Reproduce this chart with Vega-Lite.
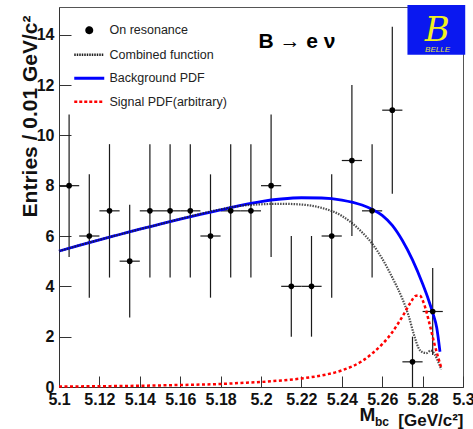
{
  "$schema": "https://vega.github.io/schema/vega-lite/v6.json",
  "width": 404,
  "height": 380,
  "autosize": "none",
  "padding": {"left": 59, "top": 7, "right": 10, "bottom": 42},
  "config": {
    "view": {"stroke": "#555", "strokeWidth": 1},
    "font": "Liberation Sans"
  },
  "datasets": {
    "bins": [
      {"x": 5.105, "n": 8, "lo": 5.17, "hi": 10.83, "xlo": 5.100, "xhi": 5.110},
      {"x": 5.115, "n": 6, "lo": 3.55, "hi": 8.45, "xlo": 5.110, "xhi": 5.120},
      {"x": 5.125, "n": 7, "lo": 4.35, "hi": 9.65, "xlo": 5.120, "xhi": 5.130},
      {"x": 5.135, "n": 5, "lo": 2.76, "hi": 7.24, "xlo": 5.130, "xhi": 5.140},
      {"x": 5.145, "n": 7, "lo": 4.35, "hi": 9.65, "xlo": 5.140, "xhi": 5.150},
      {"x": 5.155, "n": 7, "lo": 4.35, "hi": 9.65, "xlo": 5.150, "xhi": 5.160},
      {"x": 5.165, "n": 7, "lo": 4.35, "hi": 9.65, "xlo": 5.160, "xhi": 5.170},
      {"x": 5.175, "n": 6, "lo": 3.55, "hi": 8.45, "xlo": 5.170, "xhi": 5.180},
      {"x": 5.185, "n": 7, "lo": 4.35, "hi": 9.65, "xlo": 5.180, "xhi": 5.190},
      {"x": 5.195, "n": 7, "lo": 4.35, "hi": 9.65, "xlo": 5.190, "xhi": 5.200},
      {"x": 5.205, "n": 8, "lo": 5.17, "hi": 10.83, "xlo": 5.200, "xhi": 5.210},
      {"x": 5.215, "n": 4, "lo": 2.0, "hi": 6.0, "xlo": 5.210, "xhi": 5.220},
      {"x": 5.225, "n": 4, "lo": 2.0, "hi": 6.0, "xlo": 5.220, "xhi": 5.230},
      {"x": 5.235, "n": 6, "lo": 3.55, "hi": 8.45, "xlo": 5.230, "xhi": 5.240},
      {"x": 5.245, "n": 9, "lo": 6.0, "hi": 12.0, "xlo": 5.240, "xhi": 5.250},
      {"x": 5.255, "n": 7, "lo": 4.35, "hi": 9.65, "xlo": 5.250, "xhi": 5.260},
      {"x": 5.265, "n": 11, "lo": 7.68, "hi": 14.32, "xlo": 5.260, "xhi": 5.270},
      {"x": 5.275, "n": 1, "lo": 0.0, "hi": 2.0, "xlo": 5.270, "xhi": 5.280},
      {"x": 5.285, "n": 3, "lo": 1.27, "hi": 4.73, "xlo": 5.280, "xhi": 5.290}
    ],
    "curves": [
      {"series": "Background PDF", "x": 5.100, "y": 5.40},
      {"series": "Background PDF", "x": 5.110, "y": 5.63},
      {"series": "Background PDF", "x": 5.120, "y": 5.85},
      {"series": "Background PDF", "x": 5.130, "y": 6.06},
      {"series": "Background PDF", "x": 5.140, "y": 6.27},
      {"series": "Background PDF", "x": 5.150, "y": 6.47},
      {"series": "Background PDF", "x": 5.160, "y": 6.67},
      {"series": "Background PDF", "x": 5.170, "y": 6.86},
      {"series": "Background PDF", "x": 5.180, "y": 7.04},
      {"series": "Background PDF", "x": 5.190, "y": 7.22},
      {"series": "Background PDF", "x": 5.200, "y": 7.37},
      {"series": "Background PDF", "x": 5.210, "y": 7.47},
      {"series": "Background PDF", "x": 5.220, "y": 7.52},
      {"series": "Background PDF", "x": 5.230, "y": 7.51},
      {"series": "Background PDF", "x": 5.240, "y": 7.43},
      {"series": "Background PDF", "x": 5.250, "y": 7.23},
      {"series": "Background PDF", "x": 5.255, "y": 7.06},
      {"series": "Background PDF", "x": 5.260, "y": 6.82},
      {"series": "Background PDF", "x": 5.265, "y": 6.42},
      {"series": "Background PDF", "x": 5.270, "y": 5.82},
      {"series": "Background PDF", "x": 5.275, "y": 5.05},
      {"series": "Background PDF", "x": 5.280, "y": 4.10},
      {"series": "Background PDF", "x": 5.283, "y": 3.45},
      {"series": "Background PDF", "x": 5.285, "y": 2.95},
      {"series": "Background PDF", "x": 5.287, "y": 2.35},
      {"series": "Background PDF", "x": 5.2886, "y": 1.40},
      {"series": "Combined function", "x": 5.100, "y": 5.40},
      {"series": "Combined function", "x": 5.110, "y": 5.63},
      {"series": "Combined function", "x": 5.120, "y": 5.85},
      {"series": "Combined function", "x": 5.130, "y": 6.06},
      {"series": "Combined function", "x": 5.140, "y": 6.27},
      {"series": "Combined function", "x": 5.150, "y": 6.47},
      {"series": "Combined function", "x": 5.160, "y": 6.68},
      {"series": "Combined function", "x": 5.170, "y": 6.88},
      {"series": "Combined function", "x": 5.180, "y": 7.06},
      {"series": "Combined function", "x": 5.190, "y": 7.20},
      {"series": "Combined function", "x": 5.200, "y": 7.26},
      {"series": "Combined function", "x": 5.210, "y": 7.28},
      {"series": "Combined function", "x": 5.220, "y": 7.25},
      {"series": "Combined function", "x": 5.230, "y": 7.12},
      {"series": "Combined function", "x": 5.240, "y": 6.80},
      {"series": "Combined function", "x": 5.250, "y": 6.15},
      {"series": "Combined function", "x": 5.255, "y": 5.70},
      {"series": "Combined function", "x": 5.260, "y": 5.10},
      {"series": "Combined function", "x": 5.265, "y": 4.35},
      {"series": "Combined function", "x": 5.270, "y": 3.50},
      {"series": "Combined function", "x": 5.273, "y": 2.85},
      {"series": "Combined function", "x": 5.276, "y": 2.00},
      {"series": "Combined function", "x": 5.278, "y": 1.55},
      {"series": "Combined function", "x": 5.280, "y": 1.38},
      {"series": "Combined function", "x": 5.282, "y": 1.35},
      {"series": "Combined function", "x": 5.284, "y": 1.45},
      {"series": "Combined function", "x": 5.286, "y": 1.30},
      {"series": "Combined function", "x": 5.288, "y": 0.95},
      {"series": "Combined function", "x": 5.2893, "y": 0.70},
      {"series": "Signal PDF(arbitrary)", "x": 5.100, "y": 0.02},
      {"series": "Signal PDF(arbitrary)", "x": 5.120, "y": 0.03},
      {"series": "Signal PDF(arbitrary)", "x": 5.140, "y": 0.05},
      {"series": "Signal PDF(arbitrary)", "x": 5.160, "y": 0.08},
      {"series": "Signal PDF(arbitrary)", "x": 5.180, "y": 0.12},
      {"series": "Signal PDF(arbitrary)", "x": 5.190, "y": 0.16},
      {"series": "Signal PDF(arbitrary)", "x": 5.200, "y": 0.20},
      {"series": "Signal PDF(arbitrary)", "x": 5.210, "y": 0.26},
      {"series": "Signal PDF(arbitrary)", "x": 5.220, "y": 0.34},
      {"series": "Signal PDF(arbitrary)", "x": 5.230, "y": 0.46},
      {"series": "Signal PDF(arbitrary)", "x": 5.240, "y": 0.66},
      {"series": "Signal PDF(arbitrary)", "x": 5.250, "y": 1.03},
      {"series": "Signal PDF(arbitrary)", "x": 5.255, "y": 1.33},
      {"series": "Signal PDF(arbitrary)", "x": 5.260, "y": 1.70},
      {"series": "Signal PDF(arbitrary)", "x": 5.265, "y": 2.18},
      {"series": "Signal PDF(arbitrary)", "x": 5.270, "y": 2.80},
      {"series": "Signal PDF(arbitrary)", "x": 5.274, "y": 3.35},
      {"series": "Signal PDF(arbitrary)", "x": 5.2765, "y": 3.62},
      {"series": "Signal PDF(arbitrary)", "x": 5.2785, "y": 3.64},
      {"series": "Signal PDF(arbitrary)", "x": 5.2805, "y": 3.35},
      {"series": "Signal PDF(arbitrary)", "x": 5.2834, "y": 2.52},
      {"series": "Signal PDF(arbitrary)", "x": 5.2858, "y": 1.73},
      {"series": "Signal PDF(arbitrary)", "x": 5.2891, "y": 0.80}
    ],
    "logo": [
      {"x1": 5.2725, "x2": 5.3011, "y1": 13.2, "y2": 15.18, "bx": 5.2872, "by": 13.75, "big": "B", "tx": 5.2874, "ty": 13.33, "small": "BELLE"}
    ],
    "notes": [
      {"x": 5.2178, "y": 13.47, "label": "B → e ν"}
    ],
    "xtitle": [
      {"x": 5.2488, "y": -1.36, "label": "M"},
      {"x": 5.2564, "y": -1.54, "label": "bc"}
    ]
  },
  "layer": [
    {
      "data": {"name": "bins"},
      "mark": {"type": "rule", "color": "#1a1a1a", "strokeWidth": 1.2},
      "encoding": {
        "x": {"field": "x", "type": "quantitative", "scale": {"domain": [5.1, 5.3], "nice": false, "zero": false},
          "axis": {
            "title": "[GeV/c²]",
            "titleAnchor": "end",
            "titleFontSize": 17,
            "titleFontWeight": "bold",
            "titleColor": "#111",
            "titlePadding": 5,
            "values": [5.1,5.105,5.11,5.115,5.12,5.125,5.13,5.135,5.14,5.145,5.15,5.155,5.16,5.165,5.17,5.175,5.18,5.185,5.19,5.195,5.2,5.205,5.21,5.215,5.22,5.225,5.23,5.235,5.24,5.245,5.25,5.255,5.26,5.265,5.27,5.275,5.28,5.285,5.29,5.295,5.3],
            "format": "~g",
            "labelExpr": "round(datum.value*200) % 4 === 0 ? datum.label : ''",
            "labelOverlap": false,
            "labelFlush": false,
            "labelFontSize": 16,
            "labelFontWeight": "bold",
            "labelColor": "#111",
            "labelPadding": 15,
            "ticks": true,
            "tickSize": {"condition": {"test": "round(datum.value*200) % 4 === 0", "value": -11}, "value": -6},
            "tickWidth": 1,
            "tickColor": "#333",
            "domainColor": "#333",
            "grid": false
          }
        },
        "y": {"field": "lo", "type": "quantitative", "scale": {"domain": [0, 15.1], "nice": false},
          "axis": {
            "title": "Entries / 0.01 GeV/c²",
            "titleFontSize": 21,
            "titleFontWeight": "bold",
            "titleColor": "#111",
            "titleAngle": -90,
            "titleAlign": "right",
            "titleBaseline": "middle",
            "titleX": -29,
            "titleY": 8,
            "values": [0,0.5,1,1.5,2,2.5,3,3.5,4,4.5,5,5.5,6,6.5,7,7.5,8,8.5,9,9.5,10,10.5,11,11.5,12,12.5,13,13.5,14,14.5,15],
            "labelExpr": "datum.value % 2 === 0 ? datum.label : ''",
            "labelOverlap": false,
            "labelFontSize": 16,
            "labelFontWeight": "bold",
            "labelColor": "#111",
            "labelPadding": 17,
            "ticks": true,
            "tickSize": {"condition": {"test": "datum.value % 2 === 0", "value": -12}, "value": -6},
            "tickWidth": 1,
            "tickColor": "#333",
            "domainColor": "#333",
            "grid": false
          }
        },
        "y2": {"field": "hi"}
      }
    },
    {
      "data": {"name": "bins"},
      "mark": {"type": "rule", "color": "#1a1a1a", "strokeWidth": 1.2},
      "encoding": {
        "x": {"field": "xlo", "type": "quantitative"},
        "x2": {"field": "xhi"},
        "y": {"field": "n", "type": "quantitative"}
      }
    },
    {
      "data": {"name": "curves"},
      "transform": [{"filter": "datum.series === 'Background PDF'"}],
      "mark": {"type": "line", "strokeWidth": 2.8, "interpolate": "monotone"},
      "encoding": {
        "x": {"field": "x", "type": "quantitative"},
        "y": {"field": "y", "type": "quantitative"},
        "color": {
          "field": "series", "type": "nominal",
          "scale": {"domain": ["On resonance", "Combined function", "Background PDF", "Signal PDF(arbitrary)"], "range": ["#000000", "#222222", "#0000ff", "#ff0000"]},
          "legend": {
            "title": null,
            "orient": "none",
            "legendX": 24,
            "legendY": 17,
            "padding": 0,
            "symbolSize": 400,
            "symbolType": "M-1.5,0H1.5",
            "rowPadding": 10.5,
            "labelOffset": 14,
            "labelFont": "Liberation Sans",
            "labelFontSize": 12.5,
            "labelColor": "#222",
            "labelLimit": 300,
            "encode": {
              "symbols": {
                "update": {
                  "shape": {"signal": "datum.value === 'On resonance' ? 'circle' : 'M-1.5,0H1.5'"},
                  "size": {"signal": "datum.value === 'On resonance' ? 30 : 400"},
                  "fill": {"signal": "datum.value === 'On resonance' ? '#000' : 'transparent'"},
                  "strokeWidth": {"signal": "datum.value === 'Background PDF' ? 3 : 2.5"},
                  "strokeDash": {"signal": "datum.value === 'Combined function' ? [1.5, 1] : datum.value === 'Signal PDF(arbitrary)' ? [3, 2] : [1, 0]"}
                }
              }
            }
          }
        }
      }
    },
    {
      "data": {"name": "curves"},
      "transform": [{"filter": "datum.series === 'Combined function'"}],
      "mark": {"type": "line", "strokeWidth": 2.2, "strokeDash": [1.5, 1.2], "opacity": 0.8, "interpolate": "monotone"},
      "encoding": {
        "x": {"field": "x", "type": "quantitative"},
        "y": {"field": "y", "type": "quantitative"},
        "color": {"field": "series", "type": "nominal"}
      }
    },
    {
      "data": {"name": "curves"},
      "transform": [{"filter": "datum.series === 'Signal PDF(arbitrary)'"}],
      "mark": {"type": "line", "strokeWidth": 2.5, "strokeDash": [3, 2.5], "interpolate": "monotone"},
      "encoding": {
        "x": {"field": "x", "type": "quantitative"},
        "y": {"field": "y", "type": "quantitative"},
        "color": {"field": "series", "type": "nominal"}
      }
    },
    {
      "data": {"name": "bins"},
      "mark": {"type": "point", "shape": "circle", "filled": true, "color": "#000", "size": 32, "opacity": 1},
      "encoding": {
        "x": {"field": "x", "type": "quantitative"},
        "y": {"field": "n", "type": "quantitative"}
      }
    },
    {
      "data": {"name": "logo"},
      "mark": {"type": "rect", "color": "#0a18f0", "clip": false},
      "encoding": {
        "x": {"field": "x1", "type": "quantitative"},
        "x2": {"field": "x2"},
        "y": {"field": "y1", "type": "quantitative"},
        "y2": {"field": "y2"}
      }
    },
    {
      "data": {"name": "logo"},
      "mark": {"type": "text", "color": "#f0f020", "font": "DejaVu Serif", "fontStyle": "italic", "fontSize": 34, "align": "center", "baseline": "alphabetic", "clip": false},
      "encoding": {
        "x": {"field": "bx", "type": "quantitative"},
        "y": {"field": "by", "type": "quantitative"},
        "text": {"field": "big"}
      }
    },
    {
      "data": {"name": "logo"},
      "mark": {"type": "text", "color": "#e0e040", "font": "Liberation Sans", "fontStyle": "italic", "fontSize": 8, "align": "center", "baseline": "alphabetic", "clip": false},
      "encoding": {
        "x": {"field": "tx", "type": "quantitative"},
        "y": {"field": "ty", "type": "quantitative"},
        "text": {"field": "small"}
      }
    },
    {
      "data": {"name": "notes"},
      "mark": {"type": "text", "color": "#000", "font": "Liberation Sans", "fontWeight": "bold", "fontSize": 21, "align": "center", "baseline": "alphabetic"},
      "encoding": {
        "x": {"field": "x", "type": "quantitative"},
        "y": {"field": "y", "type": "quantitative"},
        "text": {"field": "label"}
      }
    },
    {
      "data": {"name": "xtitle"},
      "mark": {"type": "text", "color": "#111", "font": "Liberation Sans", "fontWeight": "bold", "align": "left", "baseline": "alphabetic", "clip": false},
      "encoding": {
        "x": {"field": "x", "type": "quantitative"},
        "y": {"field": "y", "type": "quantitative"},
        "text": {"field": "label"},
        "size": {"condition": {"test": "datum.label === 'M'", "value": 19}, "value": 12}
      }
    }
  ]
}
